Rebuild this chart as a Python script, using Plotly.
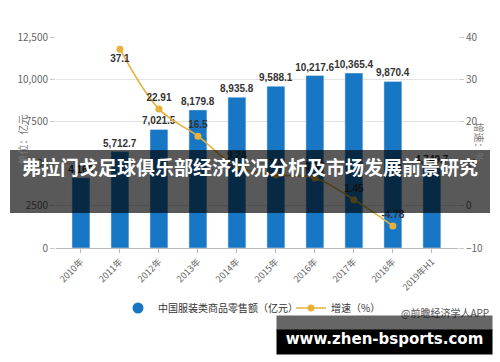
import plotly.graph_objects as go

categories = ["2010年", "2011年", "2012年", "2013年", "2014年", "2015年", "2016年", "2017年", "2018年", "2019年H1"]
retail_sales = [4166, 5712.7, 7021.5, 8179.8, 8935.8, 9588.1, 10217.6, 10365.4, 9870.4, 4749.7]
retail_labels = ["4,166", "5,712.7", "7,021.5", "8,179.8", "8,935.8", "9,588.1", "10,217.6", "10,365.4", "9,870.4", "4,749.7"]
growth = [None, 37.1, 22.91, 16.5, 9.24, 7.3, 6.57, 1.45, -4.78, None]
growth_labels = ["", "37.1", "22.91", "16.5", "9.24", "7.3", "6.57", "1.45", "-4.78", ""]
left_ticks = [0, 2500, 5000, 7500, 10000, 12500]
left_ticktext = ["0", "2500", "5000", "7500", "10,000", "12,500"]
right_ticks = [-10, 0, 10, 20, 30, 40]

W, H = 500, 362
L, R, T, B = 56, 42, 37, 114
PW, PH = W - L - R, H - T - B

def px(x):
    return (x - L) / PW

def py(y):
    return (H - B - y) / PH

BLUE = "#1877c4"
GOLD = "#e6b23a"
FONT = "Noto Sans CJK SC"
BOLD = "Liberation Sans"

fig = go.Figure()
fig.add_trace(go.Bar(
    x=categories, y=retail_sales, text=["<b>%s</b>" % t for t in retail_labels], textposition="outside",
    constraintext="none",
    textfont=dict(size=10, color="#333", family=BOLD),
    marker_color=BLUE, width=0.46, showlegend=False, cliponaxis=False,
    name="中国服装类商品零售额（亿元）"))
fig.add_trace(go.Scatter(
    x=[None], y=[None], mode="markers", marker=dict(color=BLUE, size=11, symbol="circle"),
    name="中国服装类商品零售额（亿元）"))
fig.add_trace(go.Scatter(
    x=categories, y=growth, yaxis="y2", mode="lines+markers+text",
    line=dict(color=GOLD, width=1.6, shape="spline"),
    marker=dict(color=GOLD, size=7),
    text=["<b>%s</b>" % t if t else "" for t in growth_labels],
    textposition=["top center", "bottom center"] + ["top center"] * 8,
    textfont=dict(size=10, color="#333", family=BOLD),
    cliponaxis=False, connectgaps=False, name="增速（%）"))

shapes = [
    dict(type="rect", xref="paper", yref="paper", x0=px(10), x1=px(490), y0=py(213), y1=py(150),
         fillcolor="rgba(0,0,0,0.65)", line_width=0, layer="above"),
]

annotations = [
    dict(text="单位：亿元", xref="paper", yref="paper", x=px(12), y=py(140), showarrow=False,
         textangle=-90, font=dict(size=10, color="#777", family=FONT)),
    dict(text="增速：%", xref="paper", yref="paper", x=px(489), y=py(142), showarrow=False,
         textangle=90, font=dict(size=10, color="#777", family=FONT)),
    dict(text="@前瞻经济学人APP", xref="paper", yref="paper", x=px(491), y=py(322), xanchor="right",
         showarrow=False, font=dict(size=10, color="#555", family=FONT)),
    dict(text="&nbsp;", xref="paper", yref="paper", x=px(276), y=py(315), xanchor="left", yanchor="top",
         showarrow=False, width=215, height=14, borderpad=0, bgcolor="rgba(0,0,0,0.6)",
         font=dict(size=8)),
    dict(text="<b>www.zhen-bsports.com</b>", xref="paper", yref="paper",
         x=px(276), y=py(329), xanchor="left", yanchor="top", align="center", valign="top",
         width=215, height=24, borderpad=0, bgcolor="#000000",
         showarrow=False, font=dict(size=15, color="white", family="DejaVu Sans")),
    dict(text="<b>弗拉门戈足球俱乐部经济状况分析及市场发展前景研究</b>", xref="paper", yref="paper",
         x=px(250), y=py(182), showarrow=False, font=dict(size=19, color="white", family=FONT)),
]

fig.update_layout(
    width=W, height=H, margin=dict(l=L, r=R, t=T, b=B, autoexpand=False),
    paper_bgcolor="white", plot_bgcolor="white",
    font=dict(family=FONT, size=10, color="#555"),
    xaxis=dict(type="category", range=[-0.64, 9.67], tickangle=-45, showgrid=False, automargin=False,
               showline=True, linecolor="#bbb", ticks="outside", ticklen=4, tickcolor="#bbb",
               tickfont=dict(size=9, color="#666")),
    yaxis=dict(range=[0, 12500], tickvals=left_ticks, ticktext=left_ticktext, showgrid=True,
               automargin=False,
               gridcolor="#e3e3e3", zeroline=False, ticks="outside", ticklen=5, tickcolor="#ccc",
               tickfont=dict(size=10, color="#666")),
    yaxis2=dict(range=[-10, 40], tickvals=right_ticks, overlaying="y", side="right", showgrid=False,
                automargin=False,
                zeroline=False, ticks="outside", ticklen=5, tickcolor="#ccc",
                tickfont=dict(size=10, color="#666")),
    legend=dict(orientation="h", x=px(118), xanchor="left", bgcolor="rgba(0,0,0,0)",
                y=py(308), yanchor="middle", itemwidth=30, entrywidth=128,
                font=dict(size=10, color="#333", family=FONT)),
    shapes=shapes, annotations=annotations, bargap=0.5,
)

fig.write_html("out.html", config={"displayModeBar": False},
               post_script="document.body.style.margin='0';document.body.style.overflow='hidden';")
